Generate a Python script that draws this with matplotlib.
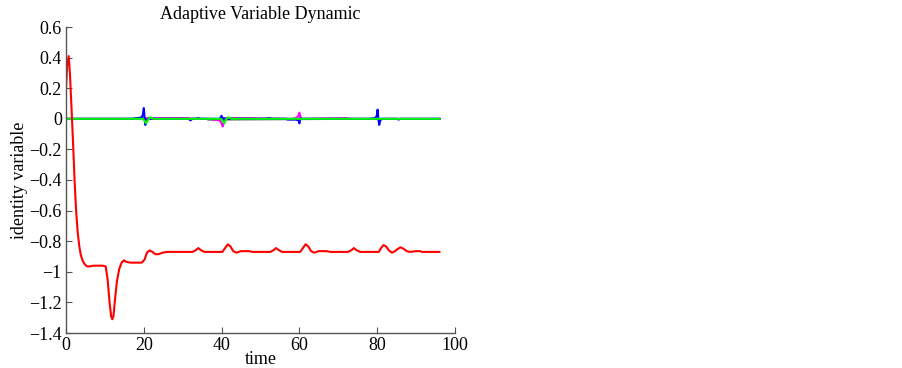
import matplotlib
matplotlib.use("Agg")
import matplotlib.pyplot as plt

plt.rcParams['font.family'] = ['Liberation Serif', 'DejaVu Serif']

# red trace (main adaptive variable)
t_red = [0, 0.3, 0.7, 1.0, 1.4, 1.8, 2.2, 2.6, 3.0, 3.4, 3.8, 4.3, 4.8, 5.4, 6.0, 7.0, 8.0, 9.5, 10.2,
         10.7, 11.2, 11.6, 11.9, 12.2, 12.6, 13.1, 13.7, 14.3, 14.9, 15.5, 16.5, 18.0, 19.5, 20.2,
         20.8, 21.5, 22.2, 23.0, 23.8, 24.8, 26.0, 30.0, 32.5, 33.3, 34.0, 34.8, 35.6, 38.0, 40.2,
         40.9, 41.6, 42.3, 43.0, 43.8, 45.0, 47.0, 48.0, 52.5, 53.3, 54.0, 54.8, 55.6, 58.0, 60.2,
         60.9, 61.6, 62.3, 63.0, 63.8, 65.0, 67.0, 68.0, 72.5, 73.3, 74.0, 74.8, 75.6, 78.0, 80.4,
         81.0, 81.6, 82.3, 83.0, 83.8, 84.6, 85.3, 86.0, 86.8, 87.6, 88.4, 90.0, 91.0, 91.5, 96.0]
v_red = [0.2, 0.35, 0.41, 0.3, 0.08, -0.15, -0.4, -0.6, -0.74, -0.83, -0.89, -0.93, -0.95, -0.965, -0.965, -0.96, -0.96, -0.96, -0.965,
         -1.05, -1.2, -1.29, -1.31, -1.29, -1.18, -1.06, -0.98, -0.94, -0.925, -0.935, -0.94, -0.94, -0.94, -0.92,
         -0.875, -0.86, -0.87, -0.885, -0.885, -0.875, -0.87, -0.87, -0.87, -0.86, -0.845, -0.86, -0.87, -0.87, -0.87,
         -0.845, -0.82, -0.835, -0.865, -0.875, -0.865, -0.865, -0.87, -0.87, -0.86, -0.845, -0.86, -0.87, -0.87, -0.87,
         -0.845, -0.82, -0.835, -0.865, -0.875, -0.865, -0.865, -0.87, -0.87, -0.86, -0.845, -0.86, -0.87, -0.87, -0.87,
         -0.845, -0.825, -0.835, -0.86, -0.875, -0.865, -0.85, -0.84, -0.85, -0.865, -0.87, -0.865, -0.865, -0.87, -0.87]

# blue trace
t_blue = [0, 17.0, 18.5, 19.5, 19.8, 20.0, 20.2, 20.4, 20.7, 21.2, 31.5, 32.0, 32.5, 33.5, 34.0, 34.5,
          39.5, 40.0, 40.3, 40.6, 41.0, 51.5, 52.0, 53.0, 56.5, 57.0, 59.0, 59.8, 60.0, 60.2, 60.5,
          61.0, 78.0, 79.5, 79.9, 80.1, 80.3, 80.5, 80.8, 81.2, 85.0, 85.5, 86.0, 96.0]
v_blue = [0, 0, 0.005, 0.01, 0.03, 0.07, 0.01, -0.04, -0.01, 0, 0, -0.01, 0, 0, 0.005, 0,
          0, 0.02, -0.01, 0.005, 0, 0, 0.005, 0, 0, -0.005, -0.005, -0.01, -0.03, 0.005, 0,
          0, 0, 0.005, 0.02, 0.06, 0.005, -0.04, -0.01, 0, 0, -0.005, 0, 0]

# magenta trace
t_mag = [0, 20.0, 20.4, 21.0, 26.0, 31.5, 32.0, 36.5, 38.0, 39.5, 40.0, 40.3, 40.7, 41.2, 47.0,
         58.0, 59.0, 59.7, 60.0, 60.3, 60.7, 61.5, 72.0, 73.0, 79.0, 80.0, 80.5, 81.0, 96.0]
v_mag = [0, 0, -0.01, 0.005, 0.005, 0.005, 0, 0, -0.005, -0.01, -0.03, -0.05, -0.01, 0.005, 0.005,
         0, 0.005, 0.015, 0.04, 0.01, 0, 0, 0.005, 0, 0, 0.005, -0.01, 0, 0]

# green trace
t_green = [0, 19.8, 20.2, 20.6, 21.0, 21.6, 22.5, 39.8, 40.3, 40.7, 41.1, 41.8, 42.5, 96.0]
v_green = [0, 0, -0.015, -0.03, -0.01, 0.01, 0, 0, -0.015, -0.03, -0.005, 0.01, 0, 0]

# black trace (small residual)
t_black = [0, 17.5, 18.0, 24.0, 24.5, 36.0, 36.5, 96.0]
v_black = [0, 0, 0.005, 0, 0.005, 0, -0.005, 0]

fig = plt.figure(figsize=(9.03, 3.68), dpi=100)
ax = fig.add_axes([66 / 903, 1 - 333 / 368, (455 - 66) / 903, (333 - 27) / 368])

ax.plot(t_black, v_black, color='black', lw=1.2)
ax.plot(t_mag, v_mag, color='#ff00ff', lw=1.5)
ax.plot(t_blue, v_blue, color='#0000ff', lw=1.5)
ax.plot(t_green, v_green, color='#00ff00', lw=1.5)
ax.plot(t_red, v_red, color='#ff0000', lw=1.5)

ax.set_xlim(0, 100)
ax.set_ylim(-1.4, 0.6)
ax.set_xticks([0, 20, 40, 60, 80, 100])
ax.set_yticks([-1.4, -1.2, -1, -0.8, -0.6, -0.4, -0.2, 0, 0.2, 0.4, 0.6])
ax.set_yticklabels(['\u22121.4', '\u22121.2', '\u22121', '\u22120.8', '\u22120.6', '\u22120.4',
                    '\u22120.2', '0', '0.2', '0.4', '0.6'])
ax.spines['top'].set_visible(False)
ax.spines['right'].set_visible(False)
for s in ['left', 'bottom']:
    ax.spines[s].set_color('#555555')
    ax.spines[s].set_linewidth(1.0)
ax.tick_params(direction='in', length=4, labelsize=13, color='#555555', pad=3)

ax.set_title('Adaptive Variable Dynamic', fontsize=13, pad=6)
ax.set_xlabel('time', fontsize=13, labelpad=-2)
ax.set_ylabel('identity variable', fontsize=13, labelpad=1)

fig.savefig('out.png', dpi=100)
